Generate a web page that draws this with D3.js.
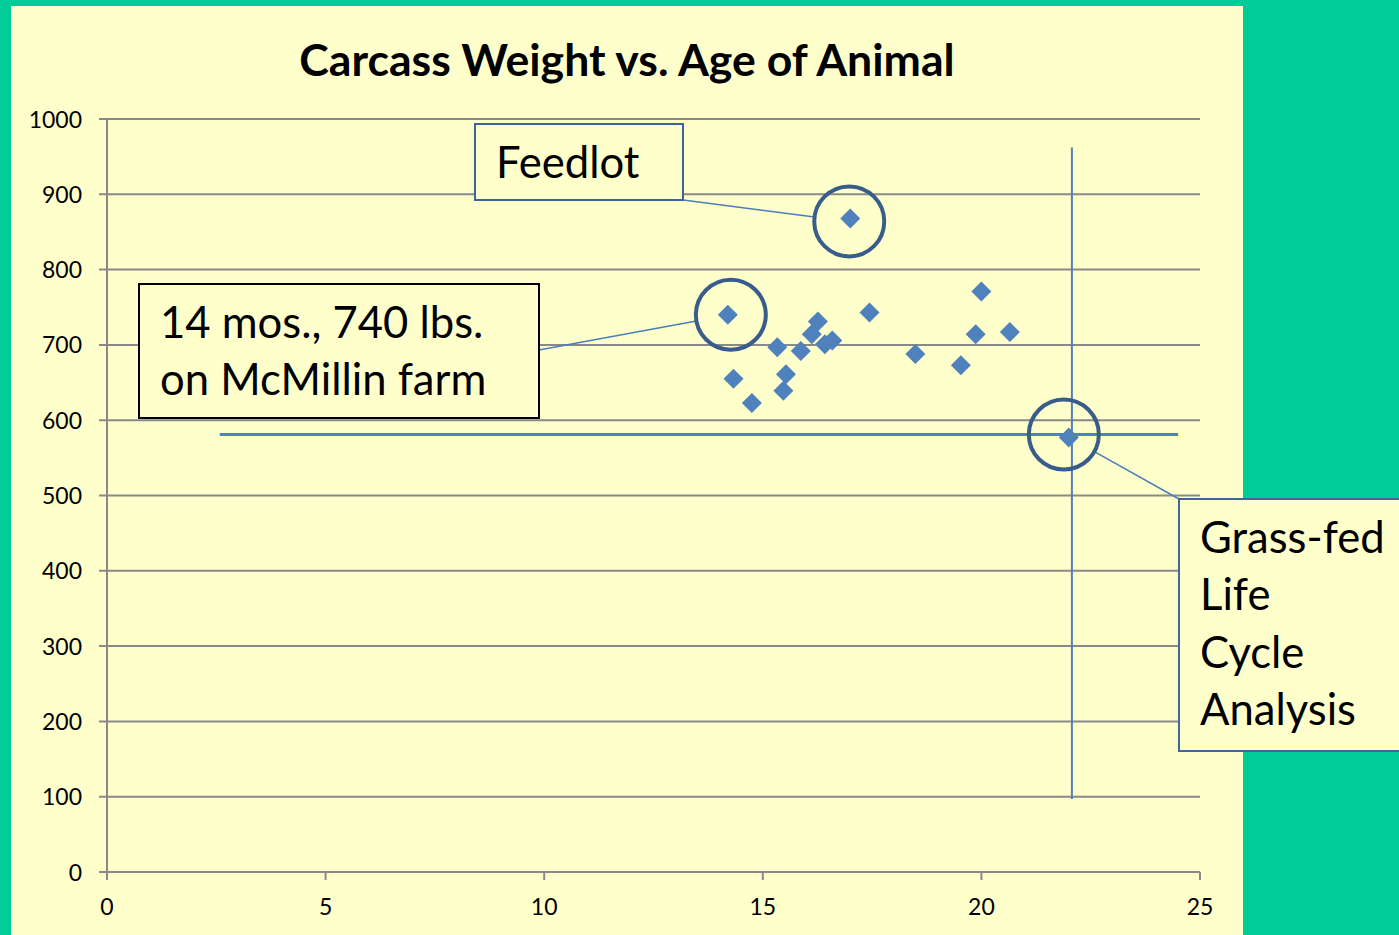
<!DOCTYPE html>
<html lang="en">
<head>
    <meta charset="UTF-8">
    <title>Carcass Weight vs. Age of Animal</title>
    <script src="https://d3js.org/d3.v7.min.js"></script>
    <style>
        body {
            margin: 0;
            background-color: #00cc99;
            overflow: hidden;
        }
        #chart text {
            font-family: Lato, "Liberation Sans", Arial, sans-serif;
            fill: #000;
        }
        .grid line {
            stroke: #898989;
            stroke-width: 2px;
        }
        .tick-label {
            font-size: 23px;
        }
        .note-box {
            fill: #ffffcc;
            stroke-width: 2px;
        }
        .note-text {
            font-size: 43.6px;
        }
        .leader {
            stroke: #4a7ebb;
            stroke-width: 1.5px;
            fill: none;
        }
        .ring {
            fill: none;
            stroke: #385d8a;
            stroke-width: 4px;
        }
    </style>
</head>
<body>
<svg id="chart" width="1399" height="935"></svg>
<script>
    // age of animal (months) and carcass weight (lbs)
    const ages    = [14.2, 14.33, 14.75, 15.33, 15.47, 15.53, 15.87, 16.12, 16.26, 16.42, 16.59, 17.0, 17.44, 18.49, 19.53, 19.87, 20.0, 20.65, 22.0];
    const weights = [740,  655,   623,   697,   639,   661,   692,   714,   731,   701,   706,   868,  743,   688,   673,   714,   771,  717,   577];

    const xTicks = [0, 5, 10, 15, 20, 25];
    const yTicks = [0, 100, 200, 300, 400, 500, 600, 700, 800, 900, 1000];

    const title = "Carcass Weight vs. Age of Animal";

    // callouts: which point they mark and their text lines
    const noteLabels = [["Feedlot"], ["14 mos., 740 lbs.", "on McMillin farm"], ["Grass-fed", "Life", "Cycle", "Analysis"]];
    const notePoints = [11, 0, 18];

    // hand-drawn reference lines through the grass-fed point (data units)
    const hLine = {y: 581, x0: 2.58, x1: 24.5};
    const vLine = {x: 22.07, y0: 97, y1: 962};

    const W = 1399, H = 935;
    const plot = {left: 107, right: 1200, top: 119, bottom: 872};

    const svg = d3.select("#chart");

    // yellow slide panel
    svg.append("rect")
        .attr("x", 11).attr("y", 6)
        .attr("width", 1232).attr("height", H)
        .attr("fill", "#ffffcc");

    const x = d3.scaleLinear().domain([0, 25]).range([plot.left, plot.right]);
    const y = d3.scaleLinear().domain([0, 1000]).range([plot.bottom, plot.top]);

    svg.append("text")
        .attr("x", 627).attr("y", 76)
        .attr("text-anchor", "middle")
        .style("font-size", "44.6px")
        .style("font-weight", "bold")
        .text(title);

    // horizontal gridlines + y ticks
    const grid = svg.append("g").attr("class", "grid");
    grid.selectAll(".h")
        .data(yTicks)
        .join("line")
        .attr("x1", plot.left - 8).attr("x2", plot.right)
        .attr("y1", d => y(d)).attr("y2", d => y(d));

    grid.append("line")
        .attr("x1", plot.left).attr("x2", plot.left)
        .attr("y1", plot.top).attr("y2", plot.bottom + 8);

    grid.selectAll(".xt")
        .data(xTicks)
        .join("line")
        .attr("x1", d => x(d)).attr("x2", d => x(d))
        .attr("y1", plot.bottom).attr("y2", plot.bottom + 8);

    svg.append("g").selectAll("text")
        .data(yTicks)
        .join("text")
        .attr("class", "tick-label")
        .attr("x", plot.left - 25)
        .attr("y", d => y(d))
        .attr("dy", "0.37em")
        .attr("text-anchor", "end")
        .text(d => d);

    svg.append("g").selectAll("text")
        .data(xTicks)
        .join("text")
        .attr("class", "tick-label")
        .attr("x", d => x(d))
        .attr("y", plot.bottom + 43)
        .attr("text-anchor", "middle")
        .text(d => d);

    // reference lines
    svg.append("line")
        .attr("x1", x(hLine.x0)).attr("x2", x(hLine.x1))
        .attr("y1", y(hLine.y)).attr("y2", y(hLine.y))
        .attr("stroke", "#4f81bd").attr("stroke-width", 3);
    svg.append("line")
        .attr("x1", x(vLine.x)).attr("x2", x(vLine.x))
        .attr("y1", y(vLine.y1)).attr("y2", y(vLine.y0))
        .attr("stroke", "#4f81bd").attr("stroke-width", 2);

    // points
    const pts = ages.map((a, i) => ({age: a, weight: weights[i]}));
    svg.append("g").selectAll("path")
        .data(pts)
        .join("path")
        .attr("d", d3.symbol(d3.symbolSquare, 200))
        .attr("transform", d => `translate(${x(d.age)},${y(d.weight)}) rotate(45)`)
        .attr("fill", "#4f81bd");

    // callout layout (pixels): box, leader end on box, ring offset, border colour
    const boxes = [
        {x: 475, y: 124, w: 208, h: 76, stroke: "#3c6496", lx: 683, ly: 200, dx: -1, dy: 3},
        {x: 139, y: 284, w: 400, h: 134, stroke: "#000", lx: 539, ly: 350, dx: 3, dy: 0},
        {x: 1179, y: 499, w: 240, h: 252, stroke: "#41679a", lx: 1179, ly: 499, dx: -5, dy: -3}
    ];
    const ringR = 35;

    noteLabels.forEach((lines, i) => {
        const b = boxes[i];
        const p = pts[notePoints[i]];
        const cx = x(p.age) + b.dx, cy = y(p.weight) + b.dy;
        // leader from box corner to the ring edge
        const ang = Math.atan2(b.ly - cy, b.lx - cx);
        svg.append("line")
            .attr("class", "leader")
            .attr("x1", b.lx).attr("y1", b.ly)
            .attr("x2", cx + ringR * Math.cos(ang)).attr("y2", cy + ringR * Math.sin(ang));
        svg.append("circle")
            .attr("class", "ring")
            .attr("cx", cx).attr("cy", cy).attr("r", ringR);
        svg.append("rect")
            .attr("class", "note-box")
            .attr("x", b.x).attr("y", b.y)
            .attr("width", b.w).attr("height", b.h)
            .attr("stroke", b.stroke);
        svg.append("g").selectAll("text")
            .data(lines)
            .join("text")
            .attr("class", "note-text")
            .attr("x", b.x + 21)
            .attr("y", (d, j) => b.y + 54 + j * 57.3)
            .text(d => d);
    });
</script>
</body>
</html>
